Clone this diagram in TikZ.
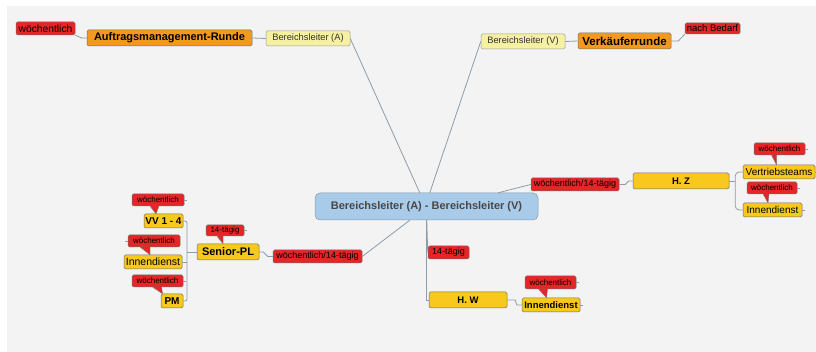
\documentclass[tikz,border=0pt]{standalone}
\usepackage{fontspec}
\setmainfont{Liberation Sans}
\usetikzlibrary{calc}
\definecolor{bgc}{HTML}{F3F3F3}
\definecolor{redc}{HTML}{E62526}
\definecolor{orangec}{HTML}{F39A1E}
\definecolor{goldc}{HTML}{F8C81C}
\definecolor{palec}{HTML}{F6F0A2}
\definecolor{bluec}{HTML}{A9CBEA}
\definecolor{linec}{HTML}{8E9CA8}
\definecolor{bordc}{HTML}{707070}
\newcommand{\mycallout}[5]{%
  \coordinate (tmpc) at ($(#1.south)+(#5,0)$);
  \fill[redc] ($(#1.south)+(#3,-0.7)$) -- (tmpc |- #2.north) -- ($(#1.south)+(#4,-0.7)$) -- cycle;
  \draw[bordc, line width=0.4pt] ($(#1.south)+(#3,0)$) -- (tmpc |- #2.north) -- ($(#1.south)+(#4,0)$);
}
\tikzset{
  base/.style={inner sep=0pt, rounded corners=1.5pt, draw=bordc, line width=0.5pt, align=center},
  redlbl/.style={base, fill=redc, font=\fontsize{9}{10}\selectfont},
  bubble/.style={base, fill=redc, font=\fontsize{8}{9}\selectfont},
  orangebox/.style={base, fill=orangec, font=\bfseries\fontsize{11}{13}\selectfont},
  goldbox/.style={base, fill=goldc, font=\fontsize{10}{12}\selectfont},
  goldbold/.style={base, fill=goldc, font=\bfseries\fontsize{9.5}{11}\selectfont},
  palebox/.style={base, fill=palec, draw=bordc!70, font=\fontsize{9.3}{11}\selectfont, text=black!80},
  central/.style={base, fill=bluec, draw=bluec!75!black, rounded corners=5pt, font=\bfseries\fontsize{11}{13}\selectfont, text=black!72},
  conn/.style={draw=linec, line width=0.8pt},
  tickln/.style={draw=linec, line width=0.5pt},
  sz/.style 2 args={minimum width=#1pt, minimum height=#2pt}
}
\begin{document}
\begin{tikzpicture}[x=1pt,y=-1pt]
\useasboundingbox (0,0) rectangle (816,352);
\fill[white] (0,0) rectangle (816,352);
\fill[bgc] (7,6) rectangle (816,352);

% nodes
\node[redlbl, font=\fontsize{10.3}{12}\selectfont, sz={59}{13}] (w1) at (45.5,28.5) {wöchentlich};
\node[orangebox, sz={165}{16}] (auf) at (169.5,38) {Auftragsmanagement-Runde};
\node[palebox, sz={84}{15}] (bla) at (308,38.5) {Bereichsleiter (A)};
\node[palebox, sz={84}{15}] (blv) at (523,41.5) {Bereichsleiter (V)};
\node[orangebox, font=\bfseries\fontsize{11.5}{13}\selectfont, sz={93}{16}] (vk) at (624.5,41) {Verkäuferrunde};
\node[redlbl, font=\fontsize{9.5}{11}\selectfont, sz={55}{11}] (nb) at (712.5,28.5) {nach Bedarf};
\node[central, sz={223}{27}] (cen) at (426.5,206.5) {Bereichsleiter (A) - Bereichsleiter (V)};

\node[redlbl, sz={88}{13}] (r1) at (575,184.5) {wöchentlich/14-tägig};
\node[goldbold, sz={96}{16}] (hz) at (681,181) {H. Z};
\node[bubble, sz={51}{12}] (bv) at (779.5,149) {wöchentlich};
\node[goldbox, sz={72}{14}] (vt) at (779,172) {Vertriebsteams};
\node[bubble, sz={50}{12}] (bi) at (772,188) {wöchentlich};
\node[goldbox, sz={59}{14}] (ind) at (772.5,210) {Innendienst};

\node[redlbl, sz={41}{13}] (r3) at (448.5,252.5) {14-tägig};
\node[goldbold, sz={78}{16}] (hw) at (468,300) {H. W};
\node[bubble, sz={51}{13}] (bw) at (550.5,282.5) {wöchentlich};
\node[goldbold, sz={58}{14}] (inw) at (551,305) {Innendienst};

\node[redlbl, sz={89}{13}] (r2) at (317.5,256.5) {wöchentlich/14-tägig};
\node[base, fill=goldc, font=\bfseries\fontsize{11}{13}\selectfont, sz={62}{16}] (sp) at (228,252) {Senior-PL};
\node[bubble, sz={38}{11}] (b14) at (225,230.5) {14-tägig};
\node[bubble, sz={52}{12}] (b1) at (158,200) {wöchentlich};
\node[goldbold, font=\bfseries\fontsize{10}{12}\selectfont, sz={39}{14}] (vv) at (163.5,221) {VV 1 - 4};
\node[bubble, sz={52}{12}] (b2) at (154,241) {wöchentlich};
\node[goldbox, font=\fontsize{10.5}{12}\selectfont, sz={58}{14}] (inn) at (153,262) {Innendienst};
\node[bubble, sz={51}{12}] (b3) at (157.5,281) {wöchentlich};
\node[goldbold, font=\bfseries\fontsize{10}{12}\selectfont, sz={22}{14}] (pm) at (172,301) {PM};

% callout pointers
\mycallout{b1}{vv}{-8}{1}{-2}
\mycallout{b2}{inn}{-14}{-4}{-4}
\mycallout{b3}{pm}{-5}{4}{5}
\mycallout{b14}{sp}{-8}{-2}{-2}
\mycallout{bv}{vt}{-8}{-3}{-3}
\mycallout{bi}{ind}{-9}{-3}{-4}
\mycallout{bw}{inw}{-12}{-3}{-4}

% connectors
\draw[conn] (w1.south east) -- ($(auf.west)+(-5,0)$) -- (auf.west);
\draw[conn] (auf.east) -- (bla.west);
\draw[conn] (bla.east) -- ($(cen.north west)+(105,0)$);
\draw[conn] (blv.west) -- ($(cen.north west)+(115,0)$);
\draw[conn] (blv.east) -- (vk.west);
\draw[conn] (vk.east) -- ++(7,0) -- (nb.south west);

\draw[conn] ($(cen.north east)+(-40,0)$) -- (r1.west);
\draw[conn] (r1.east) -- ++(6,0) -- ($(hz.west)+(-4,0)$) -- (hz.west);
\draw[conn] (hz.east) -- ++(6,0) coordinate (hzb);
\draw[conn, rounded corners=4pt] (vt.west) -| (hzb) |- (ind.west);

\draw[conn] ($(cen.south west)+(112,0)$) |- (hw.west);
\draw[conn] ($(cen.south west)+(112,0)$ |- r3.west) -- (r3.west);
\draw[conn] (hw.east) -- ++(8,0) -- ($(inw.west)+(-5,0)$) -- (inw.west);

\draw[conn] ($(cen.south west)+(95,0)$) -- (r2.east);
\draw[conn] (sp.east) -- ++(4,0) -- ($(r2.west)+(-5,0)$) -- (r2.west);
\coordinate (spb) at (187,252);
\draw[conn] (sp.west) -- (spb);
\draw[conn, rounded corners=2pt] (vv.east) -| (spb) |- (pm.east);
\draw[conn] (inn.east) -- (inn.east -| spb);

% small ticks
\draw[tickln] (b1.east) -- ++(3,0);
\draw[tickln] (b2.west) -- ++(-3,0);
\draw[tickln] (b3.east) -- ++(3,0);
\draw[tickln] (b14.east) -- ++(3,0);
\draw[tickln] (bv.east) -- ++(3,0);
\draw[tickln] (bi.east) -- ++(3,0);
\draw[tickln] (bw.east) -- ++(3,0);
\draw[tickln] (vt.east) -- ++(2,0);
\draw[tickln] (ind.east) -- ++(3,0);
\draw[tickln] (inw.east) -- ++(3,0);
\end{tikzpicture}
\end{document}
